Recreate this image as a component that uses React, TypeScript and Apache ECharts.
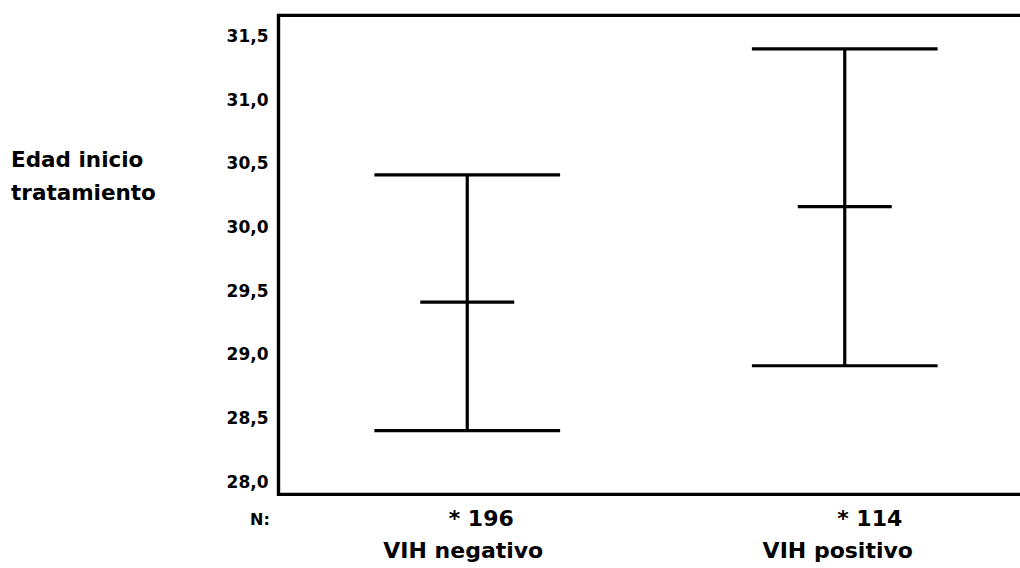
import React, { useEffect, useRef } from "react";
import * as echarts from "echarts";

const categories = ["VIH negativo", "VIH positivo"];
const nCounts = ["* 196", "* 114"];
const means = [29.41, 30.16];
const lowerCI = [28.4, 28.91];
const upperCI = [30.41, 31.4];
const yAxisTitle = "Edad inicio\ntratamiento";
const nLabel = "N:";

const FONT = "'DejaVu Sans', sans-serif";

export default function App() {
  const ref = useRef<HTMLDivElement>(null);

  useEffect(() => {
    if (!ref.current) return;
    const chart = echarts.init(ref.current, null, { renderer: "svg" });

    const data = categories.map((c, i) => [i, lowerCI[i], upperCI[i], means[i]]);

    const option: any = {
      animation: false,
      backgroundColor: "#fff",
      grid: { left: 278.5, top: 15.3, width: 755, height: 479, show: true, borderColor: "#000", borderWidth: 3.2 },
      xAxis: {
        type: "category",
        data: categories,
        boundaryGap: true,
        axisTick: { show: false },
        axisLine: { lineStyle: { color: "#000", width: 3.2 } },
        splitLine: { show: false },
        axisLabel: {
          margin: 8,
          interval: 0,
          formatter: (value: string, index: number) =>
            `{n${index}|${nCounts[index]}}\n{c${index}|${value}}`,
          rich: {
            n0: { fontFamily: FONT, fontWeight: "bold", fontSize: 22, color: "#000", lineHeight: 32, padding: [0, 0, 0, 28] },
            c0: { fontFamily: FONT, fontWeight: "bold", fontSize: 22, color: "#000", lineHeight: 32, padding: [0, 8, 0, 0] },
            n1: { fontFamily: FONT, fontWeight: "bold", fontSize: 22, color: "#000", lineHeight: 32, padding: [0, 0, 0, 50] },
            c1: { fontFamily: FONT, fontWeight: "bold", fontSize: 22, color: "#000", lineHeight: 32, padding: [0, 14, 0, 0] },
          },
        },
      },
      yAxis: {
        type: "value",
        min: 27.9,
        max: 31.663,
        interval: 0.1,
        axisTick: { show: false },
        splitLine: { show: false },
        axisLine: { show: true, lineStyle: { color: "#000", width: 3.2 } },
        axisLabel: {
          margin: 10,
          fontFamily: FONT,
          fontWeight: "bold",
          fontSize: 17,
          color: "#000",
          formatter: (v: number) => {
            const d = v * 2;
            if (Math.abs(d - Math.round(d)) > 1e-6) return "";
            return v.toFixed(1).replace(".", ",");
          },
        },
      },
      graphic: [
        {
          type: "text",
          left: 11,
          top: 143,
          style: {
            text: yAxisTitle,
            fontFamily: FONT,
            fontWeight: "bold",
            fontSize: 21.5,
            lineHeight: 33,
            fill: "#000",
            textAlign: "left",
          },
        },
        {
          type: "text",
          left: 250,
          top: 511,
          style: {
            text: nLabel,
            fontFamily: FONT,
            fontWeight: "bold",
            fontSize: 16,
            fill: "#000",
          },
        },
      ],
      series: [
        {
          type: "custom",
          data,
          encode: { x: 0, y: [1, 2, 3] },
          renderItem: (params: any, api: any) => {
            const idx = api.value(0);
            const lo = api.coord([idx, api.value(1)]);
            const hi = api.coord([idx, api.value(2)]);
            const mid = api.coord([idx, api.value(3)]);
            const band = api.size([1, 0])[0];
            const capHalf = band * 0.246;
            const meanHalf = band * 0.1245;
            const style = { stroke: "#000", lineWidth: 3.2 };
            return {
              type: "group",
              children: [
                { type: "line", shape: { x1: hi[0], y1: hi[1], x2: lo[0], y2: lo[1] }, style },
                { type: "line", shape: { x1: hi[0] - capHalf, y1: hi[1], x2: hi[0] + capHalf, y2: hi[1] }, style },
                { type: "line", shape: { x1: lo[0] - capHalf, y1: lo[1], x2: lo[0] + capHalf, y2: lo[1] }, style },
                { type: "line", shape: { x1: mid[0] - meanHalf, y1: mid[1], x2: mid[0] + meanHalf, y2: mid[1] }, style },
              ],
            };
          },
        },
      ],
    };

    chart.setOption(option);
    return () => chart.dispose();
  }, []);

  return (
    <div style={{ position: "absolute", left: 0, top: 0, width: 1020, height: 568, overflow: "hidden", background: "#fff" }}>
      <div ref={ref} style={{ width: 1045, height: 568 }} />
    </div>
  );
}
